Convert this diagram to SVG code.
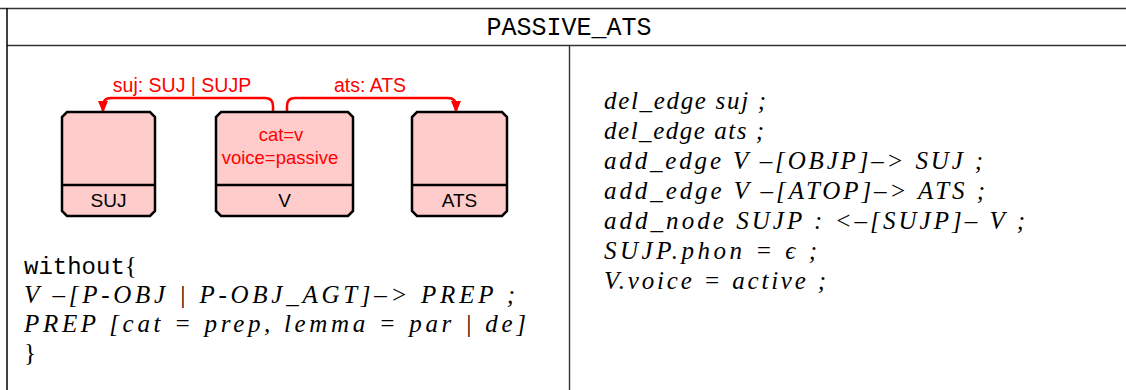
<svg xmlns="http://www.w3.org/2000/svg" width="1126" height="390" viewBox="0 0 1126 390">
<defs>
<marker id="arr" markerUnits="userSpaceOnUse" markerWidth="12" markerHeight="14" refX="6" refY="12" orient="0" viewBox="0 0 12 14">
<path d="M1,0 L11,0 L6,12 Z" fill="#ff0000"/>
</marker>
</defs>
<style>
.tbl{stroke:#333;stroke-width:1.4;fill:none}
.node{fill:#ffcccc;stroke:#000;stroke-width:2.5}
.div{stroke:#000;stroke-width:2.5}
.lbl{font-family:"Liberation Sans",Arial,sans-serif;font-size:19px;fill:#000;text-anchor:middle}
.feat{font-family:"Liberation Sans",Arial,sans-serif;font-size:18.5px;fill:#ff0000;text-anchor:middle}
.edge{fill:none;stroke:#ff0000;stroke-width:2.5}
.elbl{font-family:"Liberation Sans",Arial,sans-serif;font-size:19.5px;fill:#ff0000;text-anchor:middle}
.tt{font-family:"Liberation Mono","DejaVu Sans Mono",monospace;fill:#000}
.math{font-family:"Liberation Serif","Times New Roman",serif;font-style:italic;font-size:25px;fill:#000}
.rm{font-style:normal}
</style>
<g id="table">
<line class="tbl" x1="0" y1="8.5" x2="1126" y2="8.5"/>
<line class="tbl" x1="7" y1="45.5" x2="1126" y2="45.5"/>
<line x1="7" y1="8" x2="7" y2="390" stroke="#000" stroke-width="1.5"/>
<line class="tbl" x1="569.5" y1="45.5" x2="569.5" y2="390"/>
<text class="tt" x="569" y="35" font-size="25" text-anchor="middle">PASSIVE_ATS</text>
</g>
<g id="connectors">
<path class="edge" d="M273,120 V106 Q273,98 265,98 H111 Q103,98 103,106 V113" marker-end="url(#arr)"/>
<text class="elbl" x="182" y="92">suj: SUJ | SUJP</text>
<path class="edge" d="M287,120 V106 Q287,98 295,98 H448 Q456,98 456,106 V113" marker-end="url(#arr)"/>
<text class="elbl" x="370" y="92">ats: ATS</text>
</g>
<g id="node-SUJ">
<path class="node" d="M67,112 H150 L155,117 V211 L150,216 H67 L62,211 V117 Z"/>
<line class="div" x1="62" y1="185" x2="155" y2="185"/>
<text class="lbl" x="108.5" y="207">SUJ</text>
</g>
<g id="node-V">
<path class="node" d="M221,112 H348 L353,117 V211 L348,216 H221 L216,211 V117 Z"/>
<line class="div" x1="216" y1="185" x2="353" y2="185"/>
<text class="feat" x="281" y="141">cat=v</text>
<text class="feat" x="280" y="164">voice=passive</text>
<text class="lbl" x="284.5" y="207">V</text>
</g>
<g id="node-ATS">
<path class="node" d="M417,112 H502 L507,117 V211 L502,216 H417 L412,211 V117 Z"/>
<line class="div" x1="412" y1="185" x2="507" y2="185"/>
<text class="lbl" x="459.5" y="207">ATS</text>
</g>
<g id="without">
<text x="24" y="274"><tspan class="tt" font-size="24">without</tspan><tspan class="math rm" font-size="25">{</tspan></text>
<text class="math" x="24" y="303" textLength="491" lengthAdjust="spacing">V –[P-OBJ | P-OBJ_AGT]–&gt; PREP ;</text>
<text class="math" x="24" y="332" textLength="502" lengthAdjust="spacing">PREP [cat = prep, lemma = par | de]</text>
<text class="math rm" x="24" y="361" font-size="25">}</text>
</g>
<g id="commands">
<text class="math" x="604" y="109" textLength="162" lengthAdjust="spacing">del_edge suj ;</text>
<text class="math" x="604" y="139" textLength="160" lengthAdjust="spacing">del_edge ats ;</text>
<text class="math" x="604" y="169" textLength="379" lengthAdjust="spacing">add_edge V –[OBJP]–&gt; SUJ ;</text>
<text class="math" x="604" y="199" textLength="381" lengthAdjust="spacing">add_edge V –[ATOP]–&gt; ATS ;</text>
<text class="math" x="604" y="229" textLength="421" lengthAdjust="spacing">add_node SUJP : &lt;–[SUJP]– V ;</text>
<text class="math" x="604" y="259" textLength="213" lengthAdjust="spacing">SUJP.phon = ϵ ;</text>
<text class="math" x="604" y="289" textLength="222" lengthAdjust="spacing">V.voice = active ;</text>
</g>
</svg>
